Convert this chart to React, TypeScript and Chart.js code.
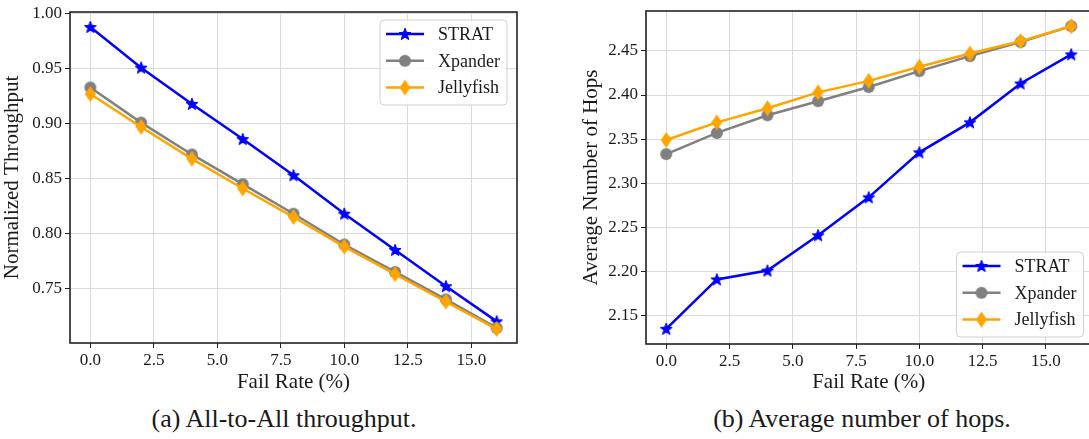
import React, { useEffect, useRef } from "react";
import { Chart, registerables } from "chart.js";

Chart.register(...registerables);

// ---------- data ----------
const failRates = [0, 2, 4, 6, 8, 10, 12, 14, 16];
const seriesNames = ["STRAT", "Xpander", "Jellyfish"];

const throughputStrat = [0.988, 0.951, 0.918, 0.886, 0.853, 0.818, 0.785, 0.752, 0.720];
const throughputXpander = [0.933, 0.901, 0.872, 0.845, 0.818, 0.790, 0.765, 0.740, 0.714];
const throughputJellyfish = [0.927, 0.897, 0.868, 0.841, 0.815, 0.788, 0.763, 0.738, 0.713];

const hopsStrat = [2.135, 2.191, 2.201, 2.241, 2.284, 2.335, 2.369, 2.413, 2.446];
const hopsXpander = [2.333, 2.357, 2.377, 2.393, 2.409, 2.427, 2.444, 2.460, 2.478];
const hopsJellyfish = [2.349, 2.369, 2.385, 2.403, 2.416, 2.432, 2.447, 2.461, 2.478];

const xTicks = [0, 2.5, 5, 7.5, 10, 12.5, 15];
const throughputTicks = [0.75, 0.8, 0.85, 0.9, 0.95, 1.0];
const hopsTicks = [2.15, 2.2, 2.25, 2.3, 2.35, 2.4, 2.45];

const FONT = '"Liberation Serif", "Times New Roman", serif';
const TEXT = "#1a1a1a";
const COLORS = ["#0000ff", "#808080", "#ffa500"];

// ---------- marker images ----------
function makeStar(color: string, r: number) {
  const size = Math.ceil(r * 2 + 3);
  const c = document.createElement("canvas");
  c.width = size;
  c.height = size;
  const g = c.getContext("2d")!;
  g.translate(size / 2, size / 2 + 0.5);
  g.beginPath();
  for (let k = 0; k < 10; k++) {
    const rad = k % 2 === 0 ? r : r * 0.42;
    const a = -Math.PI / 2 + (k * Math.PI) / 5;
    g.lineTo(rad * Math.cos(a), rad * Math.sin(a));
  }
  g.closePath();
  g.fillStyle = color;
  g.fill();
  g.strokeStyle = color;
  g.lineWidth = 1;
  g.stroke();
  return c;
}

function makeCircle(color: string, r: number) {
  const size = Math.ceil(r * 2 + 2);
  const c = document.createElement("canvas");
  c.width = size;
  c.height = size;
  const g = c.getContext("2d")!;
  g.beginPath();
  g.arc(size / 2, size / 2, r, 0, Math.PI * 2);
  g.fillStyle = color;
  g.fill();
  return c;
}

function makeDiamond(color: string, w: number, h: number) {
  const cw = Math.ceil(w + 2);
  const ch = Math.ceil(h + 2);
  const c = document.createElement("canvas");
  c.width = cw;
  c.height = ch;
  const g = c.getContext("2d")!;
  g.translate(cw / 2, ch / 2);
  g.beginPath();
  g.moveTo(0, -h / 2);
  g.lineTo(w / 2, 0);
  g.lineTo(0, h / 2);
  g.lineTo(-w / 2, 0);
  g.closePath();
  g.fillStyle = color;
  g.fill();
  return c;
}

// ---------- plugin: spines + in-plot legend ----------
const framePlugin = {
  id: "frameLegend",
  afterDatasetsDraw(chart: any, _args: any, opts: any) {
    const { ctx, chartArea } = chart;
    ctx.save();
    ctx.strokeStyle = "#222";
    ctx.lineWidth = 1.6;
    ctx.strokeRect(
      chartArea.left,
      chartArea.top,
      chartArea.right - chartArea.left,
      chartArea.bottom - chartArea.top
    );

    const w = 127;
    const h = 85;
    const x = chartArea.right - opts.offsetRight - w;
    const y =
      opts.loc === "upper"
        ? chartArea.top + opts.offsetV
        : chartArea.bottom - opts.offsetV - h;
    const r = 4;
    ctx.beginPath();
    ctx.moveTo(x + r, y);
    ctx.lineTo(x + w - r, y);
    ctx.quadraticCurveTo(x + w, y, x + w, y + r);
    ctx.lineTo(x + w, y + h - r);
    ctx.quadraticCurveTo(x + w, y + h, x + w - r, y + h);
    ctx.lineTo(x + r, y + h);
    ctx.quadraticCurveTo(x, y + h, x, y + h - r);
    ctx.lineTo(x, y + r);
    ctx.quadraticCurveTo(x, y, x + r, y);
    ctx.closePath();
    ctx.fillStyle = "rgba(255,255,255,0.85)";
    ctx.fill();
    ctx.strokeStyle = "#d0d0d0";
    ctx.lineWidth = 1;
    ctx.stroke();

    chart.data.datasets.forEach((ds: any, i: number) => {
      const cy = y + 14 + i * 26.8;
      ctx.beginPath();
      ctx.moveTo(x + 6, cy);
      ctx.lineTo(x + 44, cy);
      ctx.strokeStyle = ds.borderColor;
      ctx.lineWidth = 2.5;
      ctx.stroke();
      const img = ds.pointStyle as HTMLCanvasElement;
      ctx.drawImage(img, x + 25 - img.width / 2, cy - img.height / 2);
      ctx.fillStyle = TEXT;
      ctx.font = `18px ${FONT}`;
      ctx.textBaseline = "middle";
      ctx.textAlign = "left";
      ctx.fillText(ds.label, x + 58, cy + 1);
    });
    ctx.restore();
  },
};

type Cfg = {
  values: number[][];
  yMin: number;
  yMax: number;
  yTicks: number[];
  yTitle: string;
  yAxisWidth: number;
  yTitlePad: number;
  padRight: number;
  padTop: number;
  xAxisHeight: number;
  legend: { loc: string; offsetRight: number; offsetV: number };
};

function buildChart(canvas: HTMLCanvasElement, cfg: Cfg) {
  const markers = [
    makeStar(COLORS[0], 6.3),
    makeCircle(COLORS[1], 6),
    makeDiamond(COLORS[2], 11, 16),
  ];
  const datasets = seriesNames.map((name, i) => ({
    label: name,
    data: failRates.map((x, k) => ({ x, y: cfg.values[i][k] })),
    borderColor: COLORS[i],
    backgroundColor: COLORS[i],
    borderWidth: 2.5,
    pointStyle: markers[i],
    pointRadius: 6,
    pointHoverRadius: 6,
    tension: 0,
    fill: false,
    order: 2 - i,
  }));

  return new Chart(canvas, {
    type: "line",
    data: { datasets },
    plugins: [framePlugin],
    options: {
      animation: false,
      responsive: false,
      events: [],
      layout: {
        padding: { left: 0, right: cfg.padRight, top: cfg.padTop, bottom: 0 },
      },
      plugins: {
        legend: { display: false },
        tooltip: { enabled: false },
        frameLegend: cfg.legend,
      } as any,
      scales: {
        x: {
          type: "linear",
          min: -0.8,
          max: 16.8,
          afterBuildTicks: (s: any) => {
            s.ticks = xTicks.map((v) => ({ value: v }));
          },
          afterFit: (s: any) => {
            s.height = cfg.xAxisHeight;
            s.paddingLeft = 0;
            s.paddingRight = 0;
            s.paddingTop = 0;
            s.paddingBottom = 0;
          },
          ticks: {
            callback: (v: any) => Number(v).toFixed(1),
            font: { family: FONT, size: 17 },
            color: TEXT,
            padding: 2,
            maxRotation: 0,
            autoSkip: false,
          },
          grid: {
            color: "#dadada",
            lineWidth: 1,
            tickColor: "#222",
            tickLength: 5,
          },
          border: { display: false },
          title: {
            display: true,
            text: "Fail Rate (%)",
            font: { family: FONT, size: 21 },
            color: TEXT,
            padding: { top: 0, bottom: 5 },
          },
        },
        y: {
          type: "linear",
          min: cfg.yMin,
          max: cfg.yMax,
          afterBuildTicks: (s: any) => {
            s.ticks = cfg.yTicks.map((v) => ({ value: v }));
          },
          afterFit: (s: any) => {
            s.width = cfg.yAxisWidth;
            s.paddingLeft = 0;
            s.paddingRight = 0;
            s.paddingTop = 0;
            s.paddingBottom = 0;
          },
          ticks: {
            callback: (v: any) => Number(v).toFixed(2),
            font: { family: FONT, size: 17 },
            color: TEXT,
            padding: 3,
            autoSkip: false,
          },
          grid: {
            color: "#dadada",
            lineWidth: 1,
            tickColor: "#222",
            tickLength: 5,
          },
          border: { display: false },
          title: {
            display: true,
            text: cfg.yTitle,
            font: { family: FONT, size: 21 },
            color: TEXT,
            padding: { top: cfg.yTitlePad, bottom: 0 },
          },
        },
      },
    } as any,
  });
}

export default function App() {
  const leftRef = useRef<HTMLCanvasElement>(null);
  const rightRef = useRef<HTMLCanvasElement>(null);

  useEffect(() => {
    const a = buildChart(leftRef.current!, {
      values: [throughputStrat, throughputXpander, throughputJellyfish],
      yMin: 0.7003,
      yMax: 1.0017,
      yTicks: throughputTicks,
      yTitle: "Normalized Throughput",
      yAxisWidth: 70,
      yTitlePad: 0,
      padRight: 23,
      padTop: 12,
      xAxisHeight: 57,
      legend: { loc: "upper", offsetRight: 10, offsetV: 8 },
    });
    const b = buildChart(rightRef.current!, {
      values: [hopsStrat, hopsXpander, hopsJellyfish],
      yMin: 2.1178,
      yMax: 2.4952,
      yTicks: hopsTicks,
      yTitle: "Average Number of Hops",
      yAxisWidth: 86,
      yTitlePad: 19,
      padRight: 7,
      padTop: 11,
      xAxisHeight: 56,
      legend: { loc: "lower", offsetRight: 8, offsetV: 7 },
    });
    return () => {
      a.destroy();
      b.destroy();
    };
  }, []);

  const captionStyle: React.CSSProperties = {
    position: "absolute",
    top: 406,
    fontFamily: FONT,
    fontSize: 26,
    lineHeight: "26px",
    color: TEXT,
    whiteSpace: "nowrap",
    transform: "translateX(-50%)",
  };

  return (
    <div
      style={{
        position: "absolute",
        left: 0,
        top: 0,
        width: 1089,
        height: 439,
        overflow: "hidden",
        background: "#fff",
      }}
    >
      <canvas
        ref={leftRef}
        width={540}
        height={400}
        style={{ position: "absolute", left: 0, top: 0, width: 540, height: 400 }}
      />
      <canvas
        ref={rightRef}
        width={540}
        height={400}
        style={{ position: "absolute", left: 560, top: 0, width: 540, height: 400 }}
      />
      <div style={{ ...captionStyle, left: 284 }}>(a) All-to-All throughput.</div>
      <div style={{ ...captionStyle, left: 862 }}>(b) Average number of hops.</div>
    </div>
  );
}
